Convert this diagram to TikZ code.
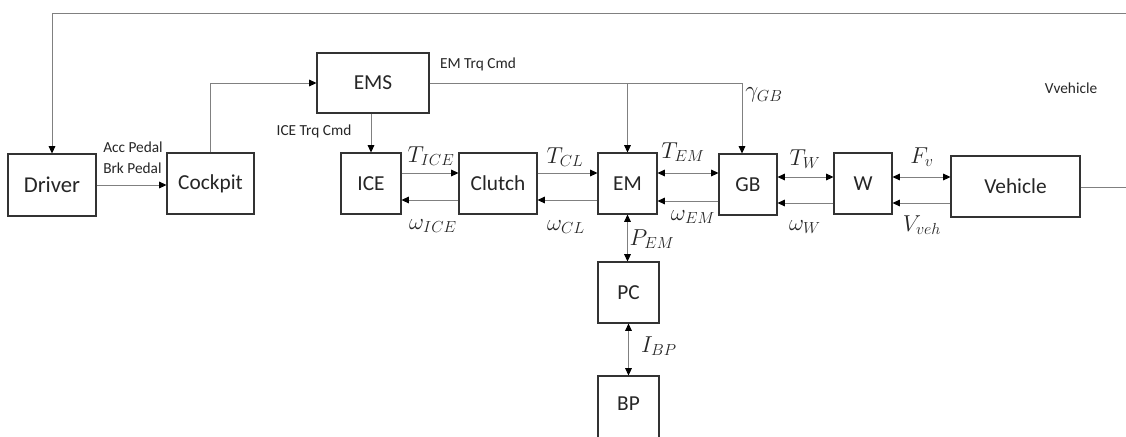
\documentclass[tikz,border=0pt]{standalone}
\usepackage{fontspec}
\setmainfont{Carlito}
\usetikzlibrary{arrows.meta}
\begin{document}
\begin{tikzpicture}[x=0.75pt,y=-0.75pt,
  blk/.style={draw=black!80, line width=0.8pt, rectangle, inner sep=0pt, text=black!85, font=\fontsize{16}{19}\selectfont},
  con/.style={draw=black!50, line width=0.75pt},
  tipe/.style={-{Triangle[length=5.5pt,width=5pt,color=black]}},
  dbl/.style={{Triangle[length=5.5pt,width=5pt,color=black]}-{Triangle[length=5.5pt,width=5pt,color=black]}},
  lbl/.style={font=\fontsize{11.5}{14}\selectfont, inner sep=0pt, text=black!85},
  mth/.style={font=\fontsize{17}{20}\selectfont, inner sep=0pt, text=black!85}
]
\useasboundingbox (0,0) rectangle (1126,436);
\fill[white] (0,0) rectangle (1126,436);

% blocks
\node[blk, minimum width=66pt, minimum height=46.5pt, font=\fontsize{17}{20}\selectfont] (driver) at (52,185) {Driver};
\node[blk, minimum width=65.25pt, minimum height=45.75pt] (cockpit) at (210.5,183.5) {Cockpit};
\node[blk, minimum width=84pt, minimum height=45pt] (ems) at (373,83) {EMS};
\node[blk, minimum width=45pt, minimum height=45.75pt] (ice) at (371,183.5) {ICE};
\node[blk, minimum width=58.5pt, minimum height=45.75pt] (clutch) at (498,183.5) {Clutch};
\node[blk, minimum width=44.25pt, minimum height=45.75pt] (em) at (627.5,183.5) {EM};
\node[blk, minimum width=43.5pt, minimum height=45.75pt] (gb) at (748,184.5) {GB};
\node[blk, minimum width=43.5pt, minimum height=45.75pt] (w) at (863,183.5) {W};
\node[blk, minimum width=96.75pt, minimum height=45.75pt] (veh) at (1015.5,186.5) {Vehicle};
\node[blk, minimum width=45.75pt, minimum height=45.75pt] (pc) at (628.5,292.5) {PC};
\begin{scope}
\clip (0,0) rectangle (1126,436);
\node[blk, minimum width=45.75pt, minimum height=51pt, text depth=0pt] (bp) at (628.5,410) {\raisebox{10pt}{BP}};
\end{scope}

% helper coordinates
\coordinate (topR) at (1126,13);
\coordinate (topL) at (52,13);
\coordinate (vehR) at (1126,187);
\coordinate (gbin) at (742,83);
\coordinate (emin) at (627.5,83);
\coordinate (u1) at (0,173);
\coordinate (l1) at (0,200);
\coordinate (u2) at (0,173);
\coordinate (l2) at (0,201);
\coordinate (u3) at (0,177);
\coordinate (l3) at (0,203);

% feedback loop
\draw[con] (veh.east |- vehR) -- (vehR);
\draw[con, tipe] (topR) -- (topL) -- (driver.north);
\draw[con, tipe] (driver.east) -- (driver.east -| cockpit.west);
\draw[con, tipe] (cockpit.north) |- (ems.west);
\draw[con, tipe] (ice.north |- ems.south) -- (ice.north);
\draw[con, tipe] (ems.east) -- (gbin) -- (gbin |- gb.north);
\draw[con, tipe] (emin) -- (em.north);

% drivetrain
\draw[con, tipe] (ice.east |- u1) -- (clutch.west |- u1);
\draw[con, tipe] (clutch.west |- l1) -- (ice.east |- l1);
\draw[con, tipe] (clutch.east |- u1) -- (em.west |- u1);
\draw[con, tipe] (em.west |- l1) -- (clutch.east |- l1);
\draw[con, dbl] (em.east |- u2) -- (gb.west |- u2);
\draw[con, tipe] (gb.west |- l2) -- (em.east |- l2);
\draw[con, dbl] (gb.east |- u3) -- (w.west |- u3);
\draw[con, tipe] (w.west |- l3) -- (gb.east |- l3);
\draw[con, dbl] (w.east |- u3) -- (veh.west |- u3);
\draw[con, tipe] (veh.west |- l3) -- (w.east |- l3);
\draw[con, dbl] (em.south) -- (em.south |- pc.north);
\draw[con, dbl] (pc.south) -- (pc.south |- bp.north);

% text labels
\node[lbl, align=left] (pedals) at (133,158) {Acc Pedal\\[2pt]Brk Pedal};
\node[lbl] (icecmd) at (314,131) {ICE Trq Cmd};
\node[lbl] (emcmd) at (478,64) {EM Trq Cmd};
\node[lbl] (vveh) at (1071,88) {Vvehicle};

% math labels
\node[mth] (gGB) at (764,95) {$\gamma_{GB}$};
\node[mth] (tICE) at (431,156) {$T_{ICE}$};
\node[mth] (wICE) at (433,226) {$\omega_{ICE}$};
\node[mth] (tCL) at (565,157) {$T_{CL}$};
\node[mth] (wCL) at (566,227) {$\omega_{CL}$};
\node[mth] (tEM) at (683,152) {$T_{EM}$};
\node[mth] (wEM) at (693,217) {$\omega_{EM}$};
\node[mth] (tW) at (805,159) {$T_{W}$};
\node[mth] (wW) at (805,227) {$\omega_{W}$};
\node[mth] (fv) at (922,157) {$F_{v}$};
\node[mth] (vveh2) at (922,225) {$V_{veh}$};
\node[mth] (pEM) at (652,239) {$P_{EM}$};
\node[mth] (iBP) at (659,346) {$I_{BP}$};
\end{tikzpicture}
\end{document}
